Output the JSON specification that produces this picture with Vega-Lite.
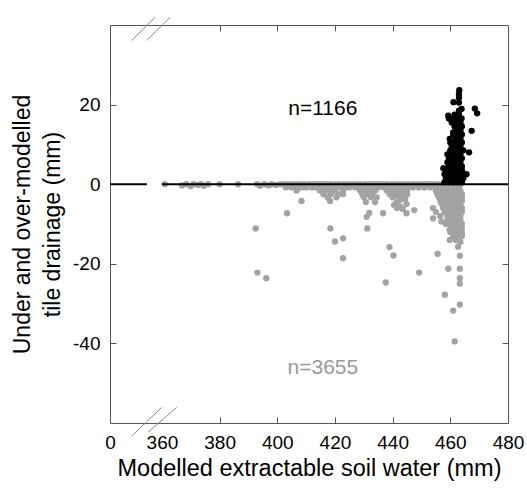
{
  "$schema": "https://vega.github.io/schema/vega-lite/v6.json",
  "width": 398,
  "height": 398,
  "autosize": "none",
  "padding": {"left": 110, "top": 25, "right": 19, "bottom": 71},
  "config": {
    "view": {"stroke": "#555555", "strokeWidth": 1},
    "font": "Liberation Sans",
    "axis": {"domain": false, "grid": false, "tickColor": "#555555", "tickWidth": 1, "labelColor": "#000000", "labelFontSize": 19, "titleColor": "#000000", "titleFontSize": 23, "titleFontWeight": "normal", "labelFont": "Liberation Sans", "titleFont": "Liberation Sans"}
  },
  "datasets": {
    "breaks": [
      {"x": 349.5, "y": 36.1, "x2": 357.6, "y2": 41.9},
      {"x": 354.7, "y": 36.1, "x2": 362.8, "y2": 41.9},
      {"x": 349.5, "y": -63.3, "x2": 359.9, "y2": -56.1},
      {"x": 355.2, "y": -62.3, "x2": 365.1, "y2": -56.1}
    ],
    "under": [
      {"x":361,"y":0},{"x":367,"y":-0.3},{"x":368.5,"y":0},{"x":370,"y":-0.5},{"x":371,"y":0},{"x":372.5,"y":-0.2},{"x":373.5,"y":0},{"x":374.5,"y":-0.4},{"x":376,"y":0},{"x":380,"y":0},{"x":386.4,"y":0},{"x":393,"y":0},{"x":394,"y":-0.4},{"x":395.5,"y":0},{"x":397,"y":-0.3},{"x":398,"y":0},{"x":399.5,"y":-0.2},{"x":401,"y":0},
      {"x":402,"y":0},{"x":403.5,"y":0},{"x":405,"y":0},{"x":406.5,"y":0},{"x":408,"y":0},{"x":409.5,"y":0},{"x":411,"y":0},{"x":412.5,"y":0},{"x":414,"y":0},{"x":415.5,"y":0},{"x":417,"y":0},{"x":418.5,"y":0},{"x":420,"y":0},{"x":421.5,"y":0},{"x":423,"y":0},{"x":424.5,"y":0},{"x":426,"y":0},{"x":427.5,"y":0},{"x":429,"y":0},{"x":430.5,"y":0},{"x":432,"y":0},{"x":433.5,"y":0},{"x":435,"y":0},{"x":436.5,"y":0},{"x":438,"y":0},{"x":439.5,"y":0},{"x":441,"y":0},{"x":442.5,"y":0},{"x":444,"y":0},{"x":445.5,"y":0},{"x":447,"y":0},{"x":448.5,"y":0},{"x":450,"y":0},{"x":451.5,"y":0},{"x":453,"y":0},{"x":454.5,"y":0},{"x":456,"y":0},{"x":457.5,"y":0},{"x":459,"y":0},{"x":460.5,"y":0},{"x":462,"y":0},{"x":463.5,"y":0},
      {"x":403,"y":-0.8},{"x":405,"y":-0.8},{"x":407,"y":-0.8},{"x":408.5,"y":-0.8},{"x":410,"y":-0.8},{"x":412,"y":-0.8},{"x":413.5,"y":-0.8},{"x":415,"y":-0.8},{"x":417,"y":-0.8},{"x":418.5,"y":-0.8},{"x":420,"y":-0.8},{"x":422,"y":-0.8},{"x":423.5,"y":-0.8},{"x":425,"y":-0.8},{"x":427,"y":-0.8},{"x":428.5,"y":-0.8},{"x":430,"y":-0.8},{"x":432,"y":-0.8},{"x":433.5,"y":-0.8},{"x":435,"y":-0.8},{"x":437,"y":-0.8},{"x":438.5,"y":-0.8},{"x":440,"y":-0.8},{"x":442,"y":-0.8},{"x":443.5,"y":-0.8},{"x":445,"y":-0.8},{"x":447,"y":-0.8},{"x":449,"y":-0.8},{"x":451,"y":-0.8},{"x":453,"y":-0.8},{"x":455,"y":-0.8},{"x":457,"y":-0.8},{"x":459,"y":-0.8},{"x":461,"y":-0.8},{"x":463,"y":-0.8},
      {"x":406.7,"y":-1.6},{"x":414.8,"y":-1.6},{"x":416.5,"y":-1.6},{"x":418,"y":-1.6},{"x":420,"y":-1.6},{"x":422.8,"y":-1.6},{"x":428.7,"y":-1.6},{"x":430.5,"y":-1.6},{"x":432,"y":-1.6},{"x":434,"y":-1.6},{"x":438,"y":-1.6},{"x":440,"y":-1.6},{"x":441.5,"y":-1.6},{"x":443,"y":-1.6},{"x":445,"y":-1.6},{"x":455,"y":-1.6},{"x":457,"y":-1.6},{"x":459,"y":-1.6},{"x":460.5,"y":-1.6},{"x":462,"y":-1.6},{"x":463.5,"y":-1.6},
      {"x":416,"y":-2.5},{"x":418.5,"y":-2.5},{"x":421,"y":-2.5},{"x":422.8,"y":-2.5},{"x":429.5,"y":-2.5},{"x":431,"y":-2.5},{"x":433,"y":-2.5},{"x":439,"y":-2.5},{"x":441,"y":-2.5},{"x":443,"y":-2.5},{"x":445,"y":-2.5},{"x":455.5,"y":-2.5},{"x":457,"y":-2.5},{"x":459,"y":-2.5},{"x":461,"y":-2.5},{"x":462.5,"y":-2.5},{"x":464,"y":-2.5},
      {"x":417.5,"y":-3.3},{"x":420.5,"y":-3.3},{"x":430,"y":-3.3},{"x":432.5,"y":-3.3},{"x":434.5,"y":-3.3},{"x":440,"y":-3.3},{"x":442,"y":-3.3},{"x":444,"y":-3.3},{"x":456,"y":-3.3},{"x":458,"y":-3.3},{"x":460,"y":-3.3},{"x":461.5,"y":-3.3},{"x":463,"y":-3.3},{"x":464,"y":-3.3},
      {"x":408.4,"y":-4.2},{"x":418.3,"y":-4.2},{"x":430.7,"y":-4.5},{"x":433.9,"y":-4.5},{"x":441.4,"y":-4.6},{"x":442.5,"y":-4.0},{"x":444.3,"y":-3.8},{"x":456.5,"y":-4.2},{"x":458.5,"y":-4.2},{"x":460,"y":-4.2},{"x":461.5,"y":-4.2},{"x":463,"y":-4.2},{"x":464,"y":-4.2},
      {"x":444.8,"y":-5},{"x":440.5,"y":-5.2},{"x":442.5,"y":-5.6},{"x":457,"y":-5},{"x":459,"y":-5},{"x":460.5,"y":-5},{"x":462,"y":-5},{"x":463.5,"y":-5},
      {"x":441.5,"y":-6},{"x":443.5,"y":-6.2},{"x":447.5,"y":-6.5},{"x":454,"y":-6},{"x":457.5,"y":-6},{"x":459.5,"y":-6},{"x":461,"y":-6},{"x":462.5,"y":-6},{"x":464,"y":-6},
      {"x":403.4,"y":-7.3},{"x":431.9,"y":-7.2},{"x":436.7,"y":-7.3},{"x":444.8,"y":-7.3},{"x":455,"y":-7},{"x":458,"y":-7},{"x":460,"y":-7},{"x":461.5,"y":-7},{"x":463,"y":-7},{"x":464,"y":-7},
      {"x":431,"y":-8.2},{"x":454,"y":-8.6},{"x":456.5,"y":-8},{"x":459,"y":-8},{"x":460.5,"y":-8},{"x":462,"y":-8},{"x":463.5,"y":-8},
      {"x":456.9,"y":-9.4},{"x":459,"y":-9},{"x":460.5,"y":-9},{"x":462,"y":-9},{"x":463.5,"y":-9},
      {"x":458.5,"y":-10},{"x":460,"y":-10},{"x":461.5,"y":-10},{"x":463,"y":-10},{"x":464,"y":-10},
      {"x":392.5,"y":-11.1},{"x":418.4,"y":-11.1},{"x":431.2,"y":-11.1},{"x":459.8,"y":-11.5},{"x":461,"y":-11},{"x":462.5,"y":-11},{"x":464,"y":-11},
      {"x":460,"y":-12},{"x":461.5,"y":-12},{"x":463,"y":-12},{"x":464,"y":-12.2},
      {"x":422.8,"y":-13.6},{"x":461,"y":-13},{"x":462.5,"y":-13},{"x":464,"y":-13},
      {"x":420,"y":-14.4},{"x":459.8,"y":-14},{"x":462,"y":-14},{"x":463.5,"y":-14.5},
      {"x":438.9,"y":-15.8},{"x":462.7,"y":-15.7},
      {"x":455.6,"y":-17.5},{"x":440.3,"y":-17.9},{"x":463.3,"y":-18},{"x":422.8,"y":-18.6},
      {"x":459.3,"y":-21.25},{"x":463.3,"y":-21.25},{"x":393.1,"y":-22.2},{"x":449.2,"y":-22.2},{"x":396.2,"y":-23.6},{"x":463.3,"y":-23.6},{"x":437.6,"y":-24.7},{"x":463.3,"y":-25},{"x":458.1,"y":-27.75},{"x":463.3,"y":-30.25},{"x":461,"y":-31.75},{"x":461.5,"y":-39.5}
    ],
    "over": [
      {"x":458,"y":0.5},{"x":459.5,"y":0.5},{"x":461,"y":0.5},{"x":462.5,"y":0.5},{"x":464,"y":0.5},
      {"x":458.5,"y":1.5},{"x":460,"y":1.5},{"x":461.5,"y":1.5},{"x":463,"y":1.5},{"x":464.5,"y":1.5},
      {"x":458,"y":2.5},{"x":459.5,"y":2.5},{"x":461,"y":2.5},{"x":462.5,"y":2.5},{"x":464,"y":2.5},{"x":465.6,"y":2.5},
      {"x":458.5,"y":3.5},{"x":460,"y":3.5},{"x":461.5,"y":3.5},{"x":463,"y":3.5},{"x":464,"y":3.5},
      {"x":457.6,"y":4},{"x":459.5,"y":4.5},{"x":461,"y":4.5},{"x":462.5,"y":4.5},{"x":464,"y":4.5},
      {"x":459,"y":5.5},{"x":460.5,"y":5.5},{"x":462,"y":5.5},{"x":463.5,"y":5.5},
      {"x":459.5,"y":6.5},{"x":461,"y":6.5},{"x":462.5,"y":6.5},{"x":464,"y":6.5},
      {"x":459,"y":7.5},{"x":460.5,"y":7.5},{"x":462,"y":7.5},{"x":463.5,"y":7.5},{"x":466.5,"y":8},
      {"x":460,"y":8.5},{"x":461.5,"y":8.5},{"x":463,"y":8.5},{"x":464.5,"y":8.5},
      {"x":460.5,"y":9.5},{"x":462,"y":9.5},{"x":463.5,"y":9.5},
      {"x":460,"y":10.5},{"x":461.5,"y":10.5},{"x":463,"y":10.5},{"x":464,"y":10.5},
      {"x":459.8,"y":11.4},{"x":462,"y":11.5},{"x":463.5,"y":11.5},
      {"x":461,"y":12.5},{"x":462.5,"y":12.5},{"x":464,"y":12.5},
      {"x":461,"y":13},{"x":462.5,"y":13.5},{"x":463.5,"y":13.5},{"x":467.4,"y":13.4},
      {"x":461.5,"y":14.5},{"x":463,"y":14.5},{"x":464,"y":14.5},
      {"x":460.5,"y":15.5},{"x":462,"y":15.5},{"x":463.5,"y":15.5},
      {"x":459.5,"y":16.5},{"x":461,"y":16.5},{"x":462.5,"y":16.5},{"x":463.9,"y":16.5},
      {"x":459.3,"y":17.25},{"x":461.5,"y":17.5},{"x":463,"y":17.5},
      {"x":463,"y":18.5},{"x":463.9,"y":18.9},{"x":469.3,"y":17.8},
      {"x":468.5,"y":19},
      {"x":461.1,"y":20.6},{"x":463,"y":20.5},{"x":463,"y":21.7},{"x":463,"y":22.6},{"x":463.1,"y":23.6}
    ],
    "zero": [
      {"x": 342, "x2": 354.8, "y": 0},
      {"x": 360, "x2": 480, "y": 0}
    ],
    "labels": [
      {"x": 415.8, "y": 19, "t": "n=1166", "c": "black"},
      {"x": 415.8, "y": -46.25, "t": "n=3655", "c": "gray"}
    ]
  },
  "resolve": {"axis": {"x": "independent", "y": "independent"}},
  "layer": [
    {
      "data": {"name": "under"},
      "mark": {"type": "circle", "size": 40, "opacity": 1, "color": "#a3a3a3"},
      "encoding": {
        "x": {"field": "x", "type": "quantitative", "scale": {"domain": [342, 480], "nice": false, "zero": false},
          "axis": {"orient": "bottom", "values": [342, 360, 380, 400, 420, 440, 460, 480], "labelExpr": "datum.value == 342 ? '0' : '' + datum.value", "tickSize": -6, "labelPadding": 16, "tickOpacity": {"condition": {"test": "datum.value >= 380 && datum.value <= 460", "value": 1}, "value": 0}, "labelFlush": false, "labelOverlap": false, "title": "Modelled extractable soil water (mm)", "titleFontSize": 23.5, "titlePadding": 4}},
        "y": {"field": "y", "type": "quantitative", "scale": {"domain": [-60, 40], "nice": false, "zero": false},
          "axis": {"orient": "left", "values": [-40, -20, 0, 20], "labelExpr": "'' + datum.value", "tickSize": -6, "labelPadding": 16, "title": ["Under and over-modelled", "tile drainage (mm)"], "titleLineHeight": 30, "titlePadding": 8}}
      }
    },
    {
      "data": {"name": "over"},
      "mark": {"type": "circle", "size": 40, "opacity": 1, "color": "#000000"},
      "encoding": {
        "x": {"field": "x", "type": "quantitative",
          "axis": {"orient": "top", "values": [380, 400, 420, 440, 460], "tickSize": -6, "labels": false, "title": null}},
        "y": {"field": "y", "type": "quantitative",
          "axis": {"orient": "right", "values": [-40, -20, 0, 20], "tickSize": -6, "labels": false, "title": null}}
      }
    },
    {
      "data": {"name": "breaks"},
      "mark": {"type": "rule", "color": "#888888", "strokeWidth": 1},
      "encoding": {
        "x": {"field": "x", "type": "quantitative", "axis": null},
        "x2": {"field": "x2"},
        "y": {"field": "y", "type": "quantitative", "axis": null},
        "y2": {"field": "y2"}
      }
    },
    {
      "data": {"name": "zero"},
      "mark": {"type": "rule", "color": "#000000", "strokeWidth": 2},
      "encoding": {
        "x": {"field": "x", "type": "quantitative", "axis": null},
        "x2": {"field": "x2"},
        "y": {"field": "y", "type": "quantitative", "axis": null}
      }
    },
    {
      "data": {"name": "labels"},
      "mark": {"type": "text", "fontSize": 21, "font": "Liberation Sans", "align": "center", "baseline": "middle"},
      "encoding": {
        "x": {"field": "x", "type": "quantitative", "axis": null},
        "y": {"field": "y", "type": "quantitative", "axis": null},
        "text": {"field": "t"},
        "color": {"field": "c", "type": "nominal", "scale": {"domain": ["black", "gray"], "range": ["#000000", "#999999"]}, "legend": null}
      }
    }
  ]
}
